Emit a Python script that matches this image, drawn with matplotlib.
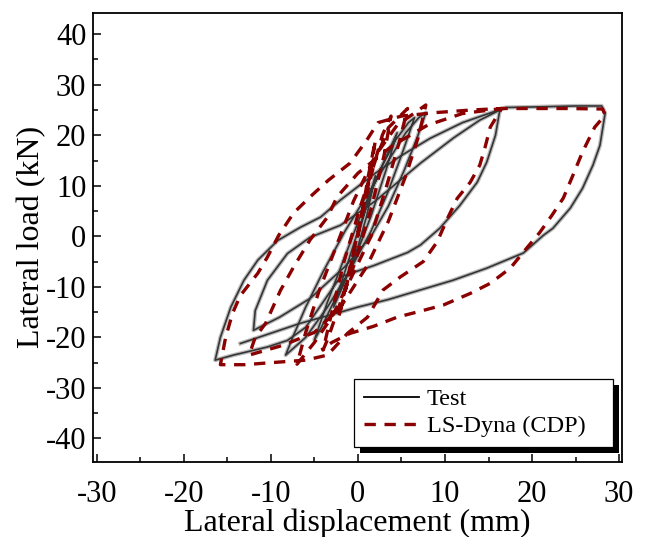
import matplotlib
matplotlib.use("Agg")
import matplotlib.pyplot as plt
from matplotlib.patches import Rectangle
from matplotlib.ticker import MultipleLocator

# Test curve (digitised waypoints), displacement in mm, load in kN
test_x = [0, 1.0, 2.0, 1.0, 0, -1.5, -2.8, -1.5, 0, 1.8, 3.3, 4.5, 3.2, 1.5, -0.5, -2.5,
          -4.2, -5.0, -3.5, -1.5, 0.5, 2.5, 4.3, 5.8, 6.5, 5.2, 3.5, 1.5, -1.0, -3.5, -6.0,
          -8.3, -7.5, -6.0, -4.0, -1.5, 1.0, 3.5, 5.5, 7.0, 7.8, 6.8, 5.3, 3.5, 1.5, -1.5,
          -5.5, -9.0, -12.0, -11.8, -10.4, -8.1, -5.5, -2.0, 2.0, 7.2, 11.0, 14.0, 16.3,
          15.8, 14.8, 13.7, 11.7, 9.4, 7.2, 5.7, 1.8, -2.0, -4.0, -6.0, -8.1, -10.4, -14.3,
          -16.4, -15.8, -14.6, -13.1, -11.5, -9.2, -6.6, -4.3, -2.0, 2.0, 5.0, 8.3, 12.0,
          15.5, 17.0, 20.0, 25.0, 28.0, 28.4, 27.8, 27.0, 25.8, 24.4, 22.4, 21.3, 19.0,
          14.8, 10.9, 7.2, 3.5, 0, -2.0, -6.6, -13.5]
test_y = [0, 6, 12, 4, -2, -9, -14, -7, 1, 10, 16, 20.5, 13, 4, -5, -12,
          -18, -20.5, -13, -4, 5, 13, 19, 22.5, 23.5, 17, 9, 1, -7, -14, -20,
          -23.5, -20, -14, -7, 1, 8, 15, 20.5, 23.5, 24.5, 19.5, 13, 6, 0, -6,
          -12.3, -16, -18.6, -14.7, -8.7, -3.4, -0.2, 2.2, 7, 14.5, 19.5, 23, 25,
          20, 14.7, 10.7, 6.1, 1.6, -1.7, -3.2, -5.8, -8, -13, -18, -20.6, -21.9, -23.5,
          -24.5, -20, -14, -8.7, -4.7, -0.8, 1.8, 3.8, 7.2, 12.5, 16, 19.4, 22.5,
          24.6, 25.5, 25.6, 25.8, 25.8, 24.4, 18.0, 14.1, 9.5, 5.6, 1.6, 0.2, -3.3,
          -6.3, -8.7, -10.6, -12.5, -14, -15, -17.2, -21.2]

# LS-Dyna (CDP) simulation
cdp_x = [0, 1.2, 2.0, 1.3, 0, -1.2, -2.2, -1.3, 0, 1.5, 2.8, 3.8, 3.0, 1.6, -0.3, -2.2,
         -3.4, -4.0, -3.0, -1.6, 0.3, 2.0, 3.5, 5.7, 4.8, 3.3, 1.5, -1.0, -3.0, -5.0,
         -7.0, -6.0, -4.5, -2.5, -0.5, 2.0, 4.5, 7.8, 7.0, 5.5, 3.5, 1.0, -2.0, -5.0,
         -8.5, -12.5, -11.8, -10.6, -8.9, -7.4, -5.5, -3.5, -2.4, 0, 4.0, 8.0, 12.0,
         16.5, 15.2, 14.6, 14.0, 12.9, 11.4, 10.3, 9.1, 7.5, 4.9, 2.9, 1.1, -1.2, -3.5,
         -6.0, -10.0, -13.0, -15.8, -15.2, -14.4, -13.5, -11.5, -10.4, -9.1, -7.4, -5.5,
         -3.4, -0.9, 1.0, 2.3, 5.0, 9.0, 13.0, 16.5, 20.0, 24.0, 28.1, 28.4, 27.2, 25.8,
         24.7, 23.6, 22.3, 20.9, 19.4, 17.5, 15.2, 12.9, 9.8, 7.2, 4.5, 1.8, -0.9, -3.0,
         -4.2]
cdp_y = [0, 12, 19, 11, 1, -9, -16, -9, 0.5, 12, 20, 23.8, 16, 6, -5, -14,
         -20, -22.5, -15, -5, 6, 15, 21.5, 25.3, 19, 10, 0, -9, -16, -21,
         -25.3, -19, -11, -2, 7, 16, 22, 26, 20, 12, 3, -6, -14, -19,
         -21.5, -23.5, -20, -17.2, -10.7, -6.1, -0.7, 3.8, 7.8, 12.5, 18, 22, 24.3,
         25.3, 21.6, 17.6, 14.1, 10.7, 7.5, 3.6, -1.1, -5, -8, -10.6, -16, -19.2, -23.5,
         -24.5, -25, -25.4, -25.4, -20, -15.2, -11.7, -7.3, -4.1, 0.2, 4.6, 7.8,
         11.1, 14.5, 19, 22.5, 23.8, 24.5, 25, 25.3, 25.3, 25.3, 25.2, 24.0, 21.6, 16.7,
         12.1, 7.6, 4.2, 0.8, -2.3, -6.3, -9.3, -11.3, -13.6, -14.8, -16, -17.8, -19.2, -21.0,
         -22.5]

x_ticks = [-30, -20, -10, 0, 10, 20, 30]
y_ticks = [-40, -30, -20, -10, 0, 10, 20, 30, 40]

plt.rcParams["font.family"] = ["Liberation Serif", "DejaVu Serif"]
plt.rcParams["axes.unicode_minus"] = False

fig = plt.figure(figsize=(6.47, 5.37), dpi=100)
ax = fig.add_axes([0.1442, 0.1402, 0.8167, 0.8356])

# scanned test curve: soft grey halo + dark core
ax.plot(test_x, test_y, color="#8f8f8f", lw=3.0, alpha=0.6, solid_joinstyle="round")
ax.plot(test_x, test_y, color="#262626", lw=1.2, alpha=0.9, solid_joinstyle="round")
ax.plot(cdp_x, cdp_y, color="#8b0000", lw=2.4, linestyle=(0, (3.4, 2.6)))

ax.set_xlim(-30.4, 30.3)
ax.set_ylim(-44.6, 44.2)
ax.set_xticks(x_ticks)
ax.set_yticks(y_ticks)
ax.xaxis.set_minor_locator(MultipleLocator(5))
ax.yaxis.set_minor_locator(MultipleLocator(5))
ax.tick_params(which="both", direction="in", top=False, right=False, labelsize=22, width=1.1)
ax.tick_params(which="major", length=5.5)
ax.tick_params(which="minor", length=3.5)
ax.tick_params(axis="x", which="major", pad=13)
ax.tick_params(axis="y", which="major", pad=5)
for sp in ax.spines.values():
    sp.set_linewidth(1.3)

ax.set_xlabel("Lateral displacement (mm)", fontsize=23, labelpad=0)
ax.set_ylabel("Lateral load (kN)", fontsize=23, labelpad=0)

h_test, = ax.plot([], [], color="black", lw=1.3)
h_cdp, = ax.plot([], [], color="#8b0000", lw=2.4, linestyle=(0, (3.4, 2.6)))
leg = ax.legend([h_test, h_cdp], ["Test", "LS-Dyna (CDP)"], loc="lower left",
                bbox_to_anchor=(0.493, 0.033, 0.491, 0.149), mode="expand", borderaxespad=0,
                fontsize=17.5, fancybox=False, framealpha=1, edgecolor="black",
                handlelength=2.3, handletextpad=0.3, labelspacing=0.2, borderpad=0.4)
leg.get_frame().set_linewidth(0.9)

# solid black drop shadow behind the legend box
fig.canvas.draw()
bb = leg.get_window_extent().transformed(fig.transFigure.inverted())
dx, dy = 6 / 647, 6 / 537
ax.add_patch(Rectangle((bb.x0 + dx, bb.y0 - dy), bb.width, bb.height, transform=fig.transFigure,
                       facecolor="black", edgecolor="none", zorder=4.9, clip_on=False))

fig.savefig("out.png", dpi=100)
